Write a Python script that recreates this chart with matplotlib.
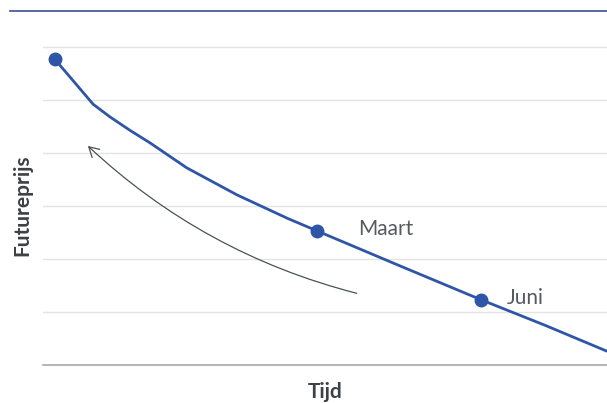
import matplotlib
matplotlib.use('Agg')
import matplotlib.pyplot as plt
from matplotlib.lines import Line2D
from matplotlib.patches import FancyArrowPatch

plt.rcParams['font.family'] = ['Lato', 'DejaVu Sans']

# futures curve (time vs price)
tijd = [0.21, 0.57, 0.89, 1.19, 1.54, 1.90, 2.55, 3.44, 4.33, 4.86, 6.33, 7.77, 8.90, 10.0]
prijs = [5.77, 5.32, 4.92, 4.68, 4.43, 4.19, 3.72, 3.21, 2.77, 2.53, 1.87, 1.23, 0.75, 0.26]
punten_x = [0.21, 4.86, 7.77]
punten_y = [5.77, 2.53, 1.23]
labels = ['', 'Maart', 'Juni']
label_dx = [0, 0.72, 0.46]

blauw = '#2f56a6'
grijs = '#555a5f'

fig = plt.figure(figsize=(6.07, 4.03), dpi=100)
ax = fig.add_axes([43 / 607, 38 / 403, 564 / 607, 319 / 403])
ax.set_xlim(0, 10)
ax.set_ylim(0, 6.02)

for g in range(1, 7):
    ax.axhline(g, color='#e4e4e4', lw=1.0, zorder=0)
for s in ['top', 'right', 'left']:
    ax.spines[s].set_visible(False)
ax.spines['bottom'].set_color('#a8a8a8')
ax.spines['bottom'].set_linewidth(1.2)
ax.set_xticks([])
ax.set_yticks([])

ax.plot(tijd, prijs, color=blauw, lw=2.0, solid_capstyle='round',
        solid_joinstyle='round', zorder=3)
ax.plot(punten_x, punten_y, 'o', color=blauw, ms=9, zorder=4)
for x, y, t, dx in zip(punten_x, punten_y, labels, label_dx):
    if t:
        ax.text(x + dx, y + 0.04, t, color=grijs, fontsize=15, va='center', ha='left')

# roll-over arrow pointing back along the curve
pijl = FancyArrowPatch((5.61, 1.34), (0.76, 4.17), connectionstyle='arc3,rad=-0.13',
                       arrowstyle='->,head_length=7,head_width=4', color='#4a5258',
                       lw=0.9, mutation_scale=1, zorder=2)
ax.add_patch(pijl)

ax.set_xlabel('Tijd', fontsize=15, fontweight='bold', color='#3d4145', labelpad=12)
ax.set_ylabel('Futureprijs', fontsize=15, fontweight='bold', color='#3d4145', labelpad=8)

fig.add_artist(Line2D([10 / 607, 1], [1 - 10.5 / 403, 1 - 10.5 / 403],
                      color='#3a4f8f', lw=1.2, transform=fig.transFigure))

fig.savefig('out.png', dpi=100)
